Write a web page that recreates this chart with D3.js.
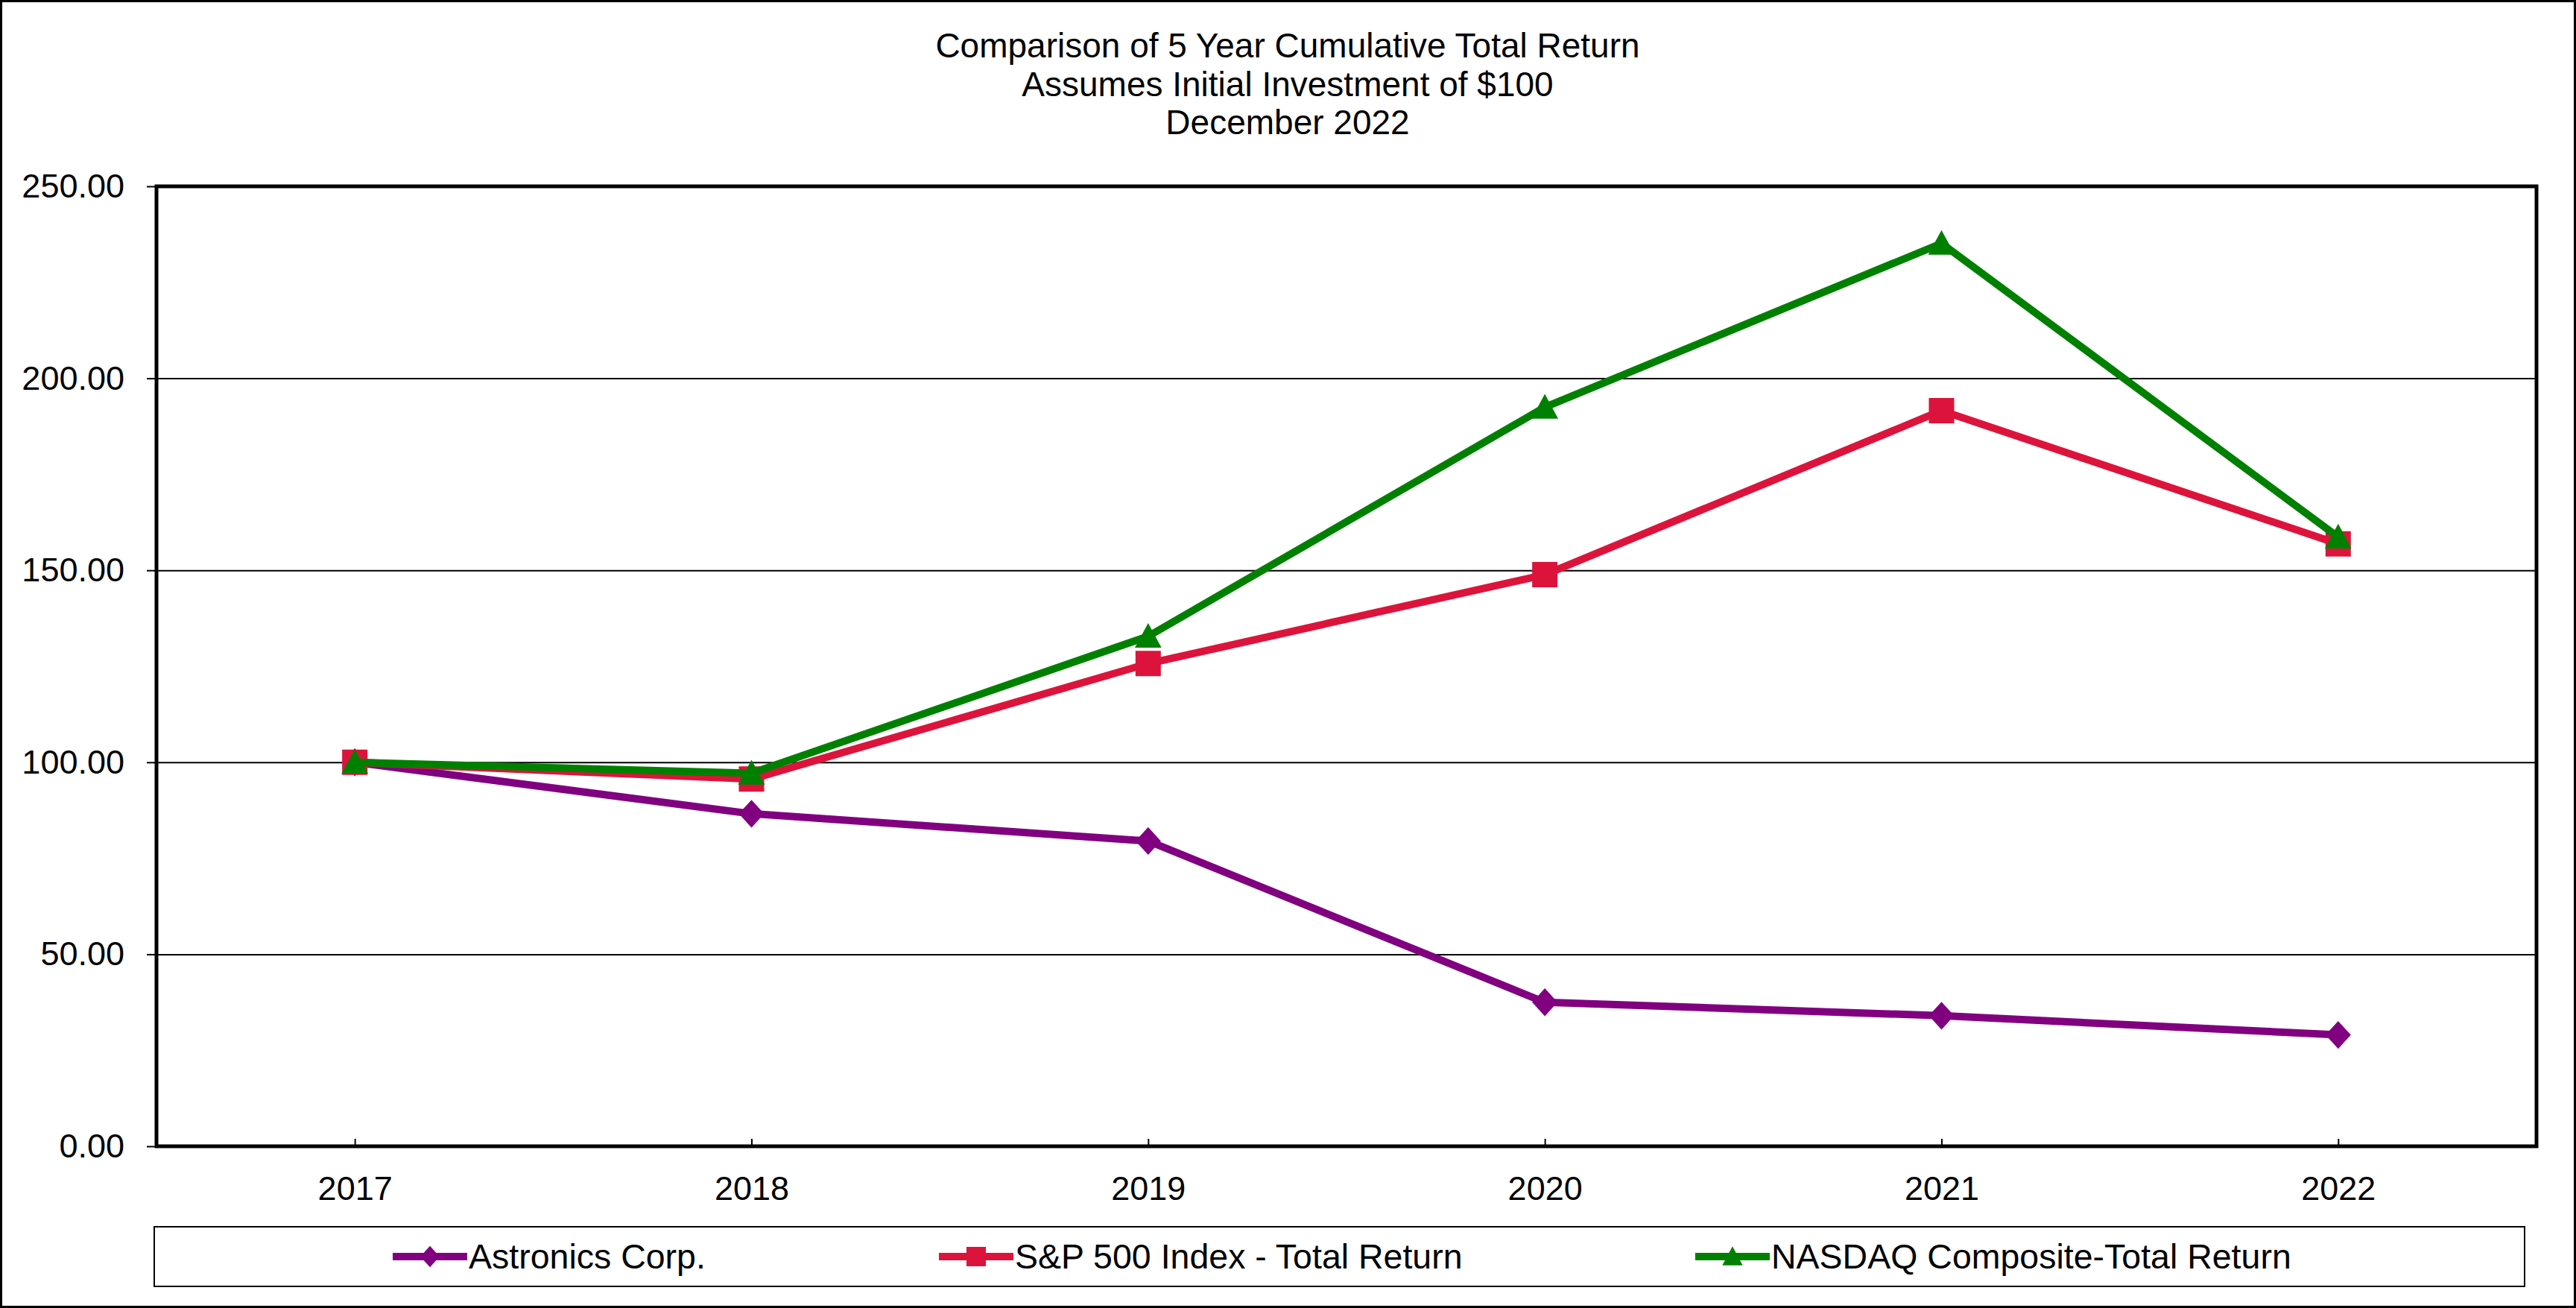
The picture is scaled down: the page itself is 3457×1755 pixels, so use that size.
<!DOCTYPE html>
<html>
<head>
<meta charset="utf-8">
<script src="https://cdn.jsdelivr.net/npm/d3@7"></script>
<style>
  html, body { margin: 0; padding: 0; background: #fff; }
  svg { display: block; font-family: "Liberation Sans", Arial, sans-serif; }
</style>
</head>
<body>
<svg id="chart"></svg>
<script>
// chart values
var years = ["2017", "2018", "2019", "2020", "2021", "2022"];
var astronics = [100.00, 86.60, 79.50, 37.50, 34.00, 29.00];
var sp500 = [100.00, 95.62, 125.72, 148.85, 191.58, 156.88];
var nasdaq = [100.00, 97.16, 132.81, 192.47, 235.15, 158.65];
var seriesNames = ["Astronics Corp.", "S&P 500 Index - Total Return", "NASDAQ Composite-Total Return"];
var yTicks = [0, 50, 100, 150, 200, 250];
var titleLines = ["Comparison of 5 Year Cumulative Total Return", "Assumes Initial Investment of $100", "December 2022"];

var W = 3457, H = 1755;
// plot box (don't call it "top", that's window.top)
var pLeft = 210, pRight = 3404, pTop = 250, pBottom = 1538;

var svg = d3.select("#chart").attr("width", W).attr("height", H);

// outer frame
svg.append("rect")
    .attr("x", 1.5).attr("y", 1.5)
    .attr("width", W - 3).attr("height", H - 3)
    .attr("fill", "#fff").attr("stroke", "#000").attr("stroke-width", 3);

// title
svg.selectAll("text.title")
    .data(titleLines)
    .enter().append("text")
    .attr("class", "title")
    .attr("x", 1728)
    .attr("y", function(d, i){ return 77 + i * 51.5; })
    .attr("text-anchor", "middle")
    .attr("font-size", 46)
    .text(function(d){ return d; });

var x = d3.scalePoint().domain(years).range([pLeft, pRight]).padding(0.5);
var y = d3.scaleLinear().domain([0, 250]).range([pBottom, pTop]);

// gridlines
svg.append("g")
    .attr("transform", "translate(" + pLeft + ",0)")
    .call(d3.axisLeft(y).tickValues(yTicks.slice(1, -1)).tickSize(-(pRight - pLeft)).tickFormat(""))
    .call(function(g){
        g.select(".domain").remove();
        g.selectAll("line").attr("stroke", "#000").attr("stroke-width", 2);
    });

// y axis labels + outward ticks
svg.append("g")
    .attr("transform", "translate(" + pLeft + ",0)")
    .call(d3.axisLeft(y).tickValues(yTicks).tickSize(13).tickPadding(30).tickFormat(d3.format(".2f")))
    .call(function(g){
        g.select(".domain").remove();
        g.selectAll("line").attr("stroke", "#000").attr("stroke-width", 2);
        g.selectAll("text").attr("font-size", 45).attr("fill", "#000")
            .attr("font-family", "Liberation Sans, Arial, sans-serif");
    });

// x axis: ticks point inward
svg.append("g")
    .attr("transform", "translate(0," + pBottom + ")")
    .call(d3.axisBottom(x).tickSize(-10).tickPadding(40))
    .call(function(g){
        g.select(".domain").remove();
        g.selectAll("line").attr("stroke", "#000").attr("stroke-width", 2);
        g.selectAll("text").attr("font-size", 45).attr("fill", "#000")
            .attr("font-family", "Liberation Sans, Arial, sans-serif");
    });

// plot frame
svg.append("rect")
    .attr("x", pLeft).attr("y", pTop)
    .attr("width", pRight - pLeft).attr("height", pBottom - pTop)
    .attr("fill", "none").attr("stroke", "#000").attr("stroke-width", 5);

var series = [
    { name: seriesNames[0], values: astronics, color: "#800080", shape: "diamond" },
    { name: seriesNames[1], values: sp500, color: "#DC143C", shape: "square" },
    { name: seriesNames[2], values: nasdaq, color: "#008000", shape: "triangle" }
];

function markerPath(shape, s){
    // s = half size
    if (shape == "diamond") return "M0," + (-s * 1.1) + "L" + s + ",0L0," + (s * 1.1) + "L" + (-s) + ",0Z";
    if (shape == "square") return "M" + (-s) + "," + (-s) + "h" + (2 * s) + "v" + (2 * s) + "h" + (-2 * s) + "Z";
    return "M0," + (-s * 1.05) + "L" + (s * 1.05) + "," + (s * 0.9) + "L" + (-s * 1.05) + "," + (s * 0.9) + "Z";
}

var line = d3.line()
    .x(function(d, i){ return x(years[i]); })
    .y(function(d){ return y(d); });

series.forEach(function(s){
    var g = svg.append("g");
    g.append("path")
        .attr("d", line(s.values))
        .attr("fill", "none")
        .attr("stroke", s.color)
        .attr("stroke-width", 10)
        .attr("stroke-linejoin", "round");
    g.selectAll("path.mk")
        .data(s.values)
        .enter().append("path")
        .attr("class", "mk")
        .attr("d", markerPath(s.shape, 17))
        .attr("fill", s.color)
        .attr("transform", function(d, i){ return "translate(" + x(years[i]) + "," + y(d) + ")"; });
});

// legend
svg.append("rect")
    .attr("x", 207).attr("y", 1646)
    .attr("width", 3388 - 207).attr("height", 1726 - 1646)
    .attr("fill", "#fff").attr("stroke", "#000").attr("stroke-width", 2);

var legendX = [527, 1260, 2275];
var legendY = 1686;
series.forEach(function(s, i){
    var lg = svg.append("g").attr("transform", "translate(" + legendX[i] + "," + legendY + ")");
    lg.append("line")
        .attr("x1", 0).attr("x2", 100)
        .attr("y1", 0).attr("y2", 0)
        .attr("stroke", s.color).attr("stroke-width", 10);
    lg.append("path")
        .attr("d", markerPath(s.shape, 13))
        .attr("fill", s.color)
        .attr("transform", "translate(50,0)");
    lg.append("text")
        .attr("x", 102).attr("y", 16)
        .attr("font-size", 46.5)
        .text(s.name);
});
</script>
</body>
</html>
